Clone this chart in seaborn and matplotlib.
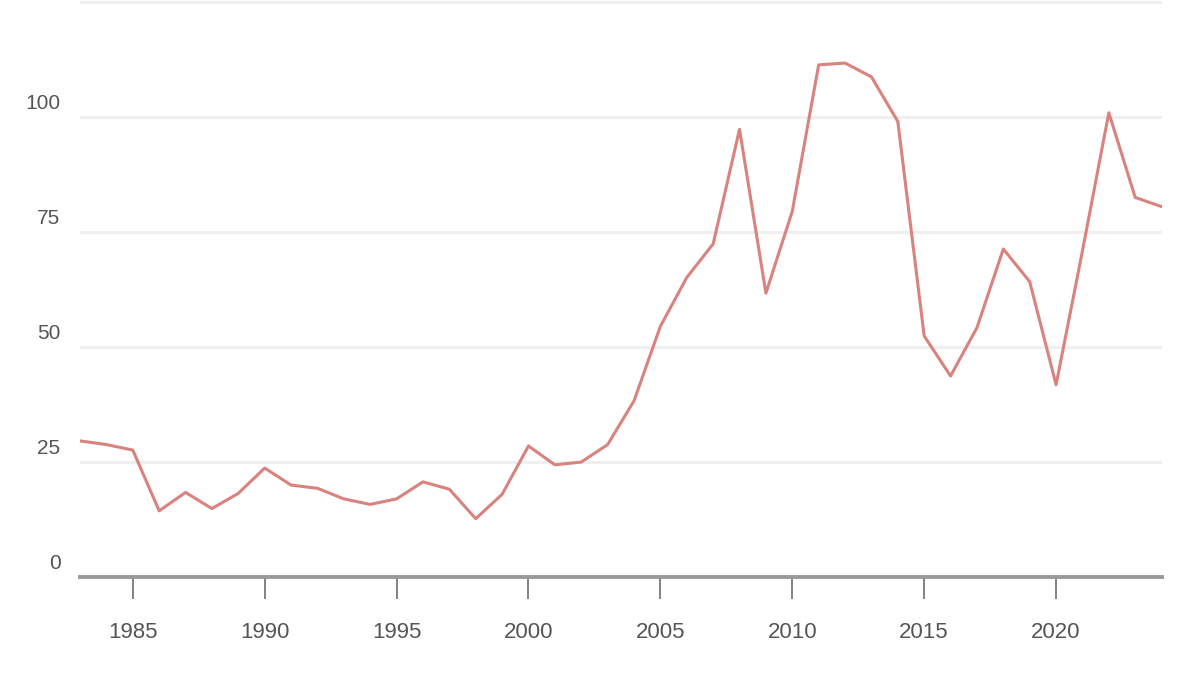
import seaborn as sns
import matplotlib.pyplot as plt
import matplotlib.transforms as mtransforms

# annual values
years = list(range(1983, 2025))
price = [29.6, 28.8, 27.6, 14.4, 18.4, 14.9, 18.2, 23.7, 20.0, 19.3,
         17.0, 15.8, 17.0, 20.7, 19.1, 12.7, 18.0, 28.5, 24.4, 25.0,
         28.8, 38.3, 54.5, 65.1, 72.4, 97.3, 61.7, 79.5, 111.3, 111.7,
         108.7, 99.0, 52.4, 43.7, 54.2, 71.3, 64.2, 41.8, 70.9, 100.9,
         82.5, 80.5]
y_ticks = [0, 25, 50, 75, 100, 125]
x_ticks = [1985, 1990, 1995, 2000, 2005, 2010, 2015, 2020]

sns.set_style('white')
plt.rcParams['font.family'] = ['Liberation Sans', 'DejaVu Sans']

fig = plt.figure(figsize=(12, 6.75), dpi=100)
ax = fig.add_axes([0.0667, 0.145, 0.9013, 0.855])

sns.lineplot(x=years, y=price, ax=ax, color='#d9827e', linewidth=2.2,
             solid_joinstyle='round', solid_capstyle='round', zorder=3)

ax.set_xlim(1983, 2024)
ax.set_ylim(0, 125.4)
ax.set_yticks(y_ticks)
ax.set_yticklabels([str(v) if v < 125 else '' for v in y_ticks])
ax.set_xticks(x_ticks)
ax.set_xticklabels([str(v) for v in x_ticks])

ax.grid(axis='y', color='#efefef', linewidth=2.2, zorder=0)
ax.grid(axis='x', visible=False)
for side in ['top', 'right', 'left']:
    ax.spines[side].set_visible(False)
ax.spines['bottom'].set_color('#999999')
ax.spines['bottom'].set_linewidth(2.8)
ax.spines['bottom'].set_zorder(4)

ax.tick_params(axis='y', left=False, length=0, pad=14, labelsize=15,
               labelcolor='#555555')
ax.tick_params(axis='x', bottom=True, length=16, width=1.3, color='#777777',
               pad=16, labelsize=16, labelcolor='#555555', direction='out')
ax.set_xlabel('')
ax.set_ylabel('')

# y labels sit just above their gridlines
offset = mtransforms.ScaledTranslation(0, 3 / 72, fig.dpi_scale_trans)
for lbl in ax.get_yticklabels():
    lbl.set_verticalalignment('bottom')
    lbl.set_transform(lbl.get_transform() + offset)

fig.savefig('out.png', dpi=100, facecolor='white')
